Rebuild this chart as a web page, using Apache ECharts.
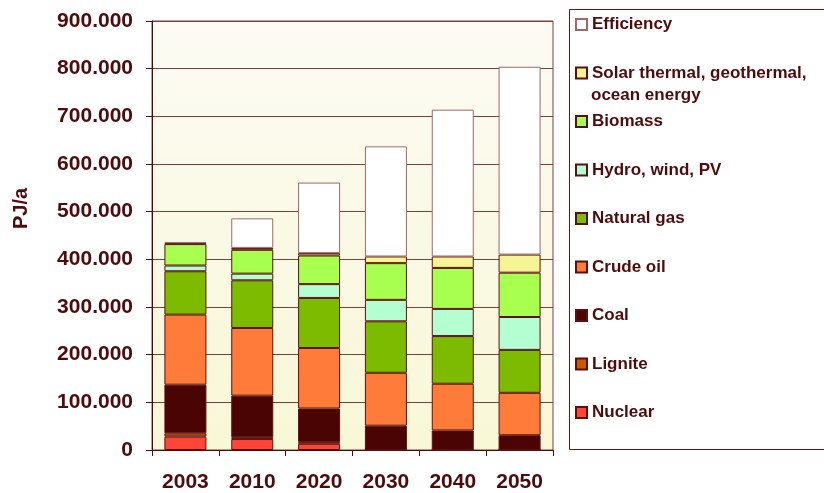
<!DOCTYPE html>
<html><head><meta charset="utf-8">
<script src="https://cdn.jsdelivr.net/npm/echarts@6/dist/echarts.min.js"></script>
<style>html,body{margin:0;padding:0;background:#fff}#c{width:824px;height:493px}</style>
</head><body><div id="c"></div>
<script>
// values in thousands of PJ/a (axis labels show e.g. 900.000)
const years = ['2003','2010','2020','2030','2040','2050'];
const nuclear    = [28, 23, 13, 0, 0, 0];
const lignite    = [7, 4, 4, 0, 0, 0];
const coal       = [102, 87, 70, 51, 41, 31];
const crudeOil   = [147, 142, 127, 111, 98, 89];
const naturalGas = [91, 100, 105, 108, 100, 90];
const hydroWindPV= [12, 14, 29, 45, 57, 69];
const biomass    = [45, 50, 60, 77, 86, 93];
const solarGeo   = [2, 4, 5, 14, 24, 38];
const efficiency = [2, 62, 148, 231, 308, 394];
const yTicks = [0,100,200,300,400,500,600,700,800,900];

const FONT = 'Liberation Sans, Arial, sans-serif';
const TXT = '#4d0b0b';
const SOLAR = 'Solar thermal, geothermal, ocean energy';

const defs = [
  ['Nuclear', nuclear, '#FF4438'],
  ['Lignite', lignite, '#C55A00'],
  ['Coal', coal, '#4A0404'],
  ['Crude oil', crudeOil, '#FF7B3A'],
  ['Natural gas', naturalGas, '#7CBB00'],
  ['Hydro, wind, PV', hydroWindPV, '#B3FFD1'],
  ['Biomass', biomass, '#A8FF50'],
  [SOLAR, solarGeo, '#F5F595'],
  ['Efficiency', efficiency, '#FFFFFF']
];

const series = defs.map(([name, data, color]) => ({
  name, type: 'bar', stack: 'total', data, barWidth: 42,
  itemStyle: { color, borderColor: name === 'Efficiency' ? '#9a6a6a' : '#5a1010', borderWidth: 1 },
  emphasis: { disabled: true }
}));

const chart = echarts.init(document.getElementById('c'), null, { renderer: 'canvas' });
chart.setOption({
  animation: false,
  backgroundColor: '#fff',
  grid: {
    left: 152, right: 271, top: 21, bottom: 41, show: true,
    borderColor: '#7a4040', borderWidth: 1,
    backgroundColor: new echarts.graphic.LinearGradient(0, 0, 0, 1, [
      { offset: 0, color: '#FCFBF4' }, { offset: 1, color: '#F8F7D6' }
    ])
  },
  xAxis: {
    type: 'category', data: years,
    axisLine: { lineStyle: { color: '#4a0a0a', width: 1 } },
    axisTick: { show: true, length: 6, lineStyle: { color: '#4a0a0a' } },
    axisLabel: { color: TXT, fontFamily: FONT, fontWeight: 'bold', fontSize: 21, margin: 22 }
  },
  yAxis: {
    type: 'value', min: 0, max: 900, interval: 100,
    name: 'PJ/a', nameLocation: 'middle', nameGap: 121, nameRotate: 90,
    nameTextStyle: { color: TXT, fontFamily: FONT, fontWeight: 'bold', fontSize: 20, padding: [0, 0, 0, 54] },
    axisLine: { show: true, lineStyle: { color: '#4a0a0a', width: 1 } },
    axisTick: { show: true, length: 6, lineStyle: { color: '#4a0a0a' } },
    splitLine: { lineStyle: { color: '#7a4040', width: 1 } },
    axisLabel: {
      color: TXT, fontFamily: FONT, fontWeight: 'bold', fontSize: 21, margin: 19,
      formatter: v => yTicks.includes(v) ? (v === 0 ? '0' : v + '.000') : ''
    }
  },
  legend: {
    orient: 'vertical', left: 575, top: 15.5, padding: 0,
    data: defs.map(d => d[0]).reverse(),
    icon: 'rect',
    itemWidth: 11, itemHeight: 11, itemGap: 30.5,
    selectedMode: false,
    formatter: n => n === SOLAR ? 'Solar thermal, geothermal,' : n,
    textStyle: { color: TXT, fontFamily: FONT, fontWeight: 'bold', fontSize: 17, lineHeight: 18, padding: [0,0,0,0] }
  },
  graphic: [
    { type: 'rect', shape: { x: 569.5, y: 9.5, width: 300, height: 440 },
      style: { fill: 'none', stroke: '#5a1a1a', lineWidth: 1 }, silent: true },
    { type: 'text', left: 591, top: 87,
      style: { text: 'ocean energy', fill: TXT, font: 'bold 17px ' + FONT } }
  ],
  series
});
</script></body></html>
